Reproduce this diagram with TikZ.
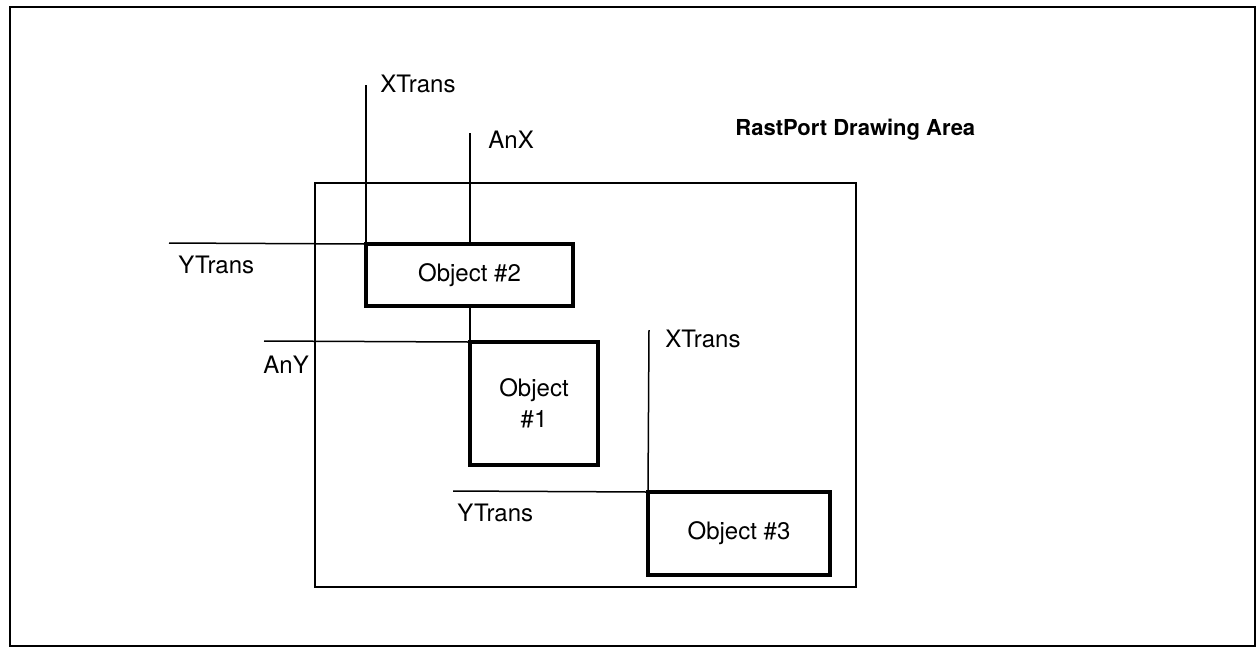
\documentclass[tikz,border=0pt]{standalone}
\usepackage{fontspec}
\setmainfont{TeX Gyre Heros}

\begin{document}
\begin{tikzpicture}[
      x=0.5pt, y=-0.5pt,                                  % one unit per pixel, y downwards
      obj/.style={draw, line width=2pt, inner sep=0pt, outer sep=0pt, anchor=north west,
                  align=center, font=\fontsize{12}{15.5}\selectfont},  % one box per object
      lbl/.style={inner sep=0pt, anchor=base west, font=\fontsize{12}{14}\selectfont},
      guide/.style={line width=0.75pt}]                   % offset lines
    \useasboundingbox (0,0) rectangle (1258,650);
    \draw[line width=1.3pt] (10,7) rectangle (1255,646);  % page frame
    \draw[line width=1pt] (315,183) rectangle (856,587);  % drawing area
    \node[lbl, font=\fontsize{11}{14}\selectfont\bfseries] (title) at (735,135) {RastPort Drawing Area};
    % objects
    \node[obj, minimum width=103.5pt, minimum height=31pt] (obj2) at (366,244) {Object \#2};
    \node[obj, minimum width=64pt, minimum height=61.5pt] (obj1) at (470,342) {Object\\\#1};
    \node[obj, minimum width=91pt, minimum height=41.5pt] (obj3) at (648,492) {Object \#3};
    % free ends of the offset lines
    \coordinate (xt1) at (366,85);
    \coordinate (yt1) at (169,243);
    \coordinate (anx) at (470,133);
    \coordinate (any) at (264,341);
    \coordinate (xt3) at (649,330);
    \coordinate (yt3) at (453,491);
    \draw[guide] (xt1) -- (obj2.north west);              % XTrans of object 2
    \draw[guide] (yt1) -- (obj2.north west);              % YTrans of object 2
    \draw[guide] (anx) -- (anx |- obj2.north);            % AnX above object 2
    \draw[guide] (anx |- obj2.south) -- (obj1.north west);% AnX on to object 1
    \draw[guide] (any) -- (obj1.north west);              % AnY of object 1
    \draw[guide] (xt3) -- (obj3.north west);              % XTrans of object 3
    \draw[guide] (yt3) -- (obj3.north west);              % YTrans of object 3
    % labels
    \node[lbl] (xt1lbl) at (380,92) {XTrans};
    \node[lbl] (anxlbl) at (488,148) {AnX};
    \node[lbl] (yt1lbl) at (178,273) {YTrans};
    \node[lbl] (anylbl) at (263,373) {AnY};
    \node[lbl] (xt3lbl) at (665,347) {XTrans};
    \node[lbl] (yt3lbl) at (457,521) {YTrans};
  \end{tikzpicture}
\end{document}
